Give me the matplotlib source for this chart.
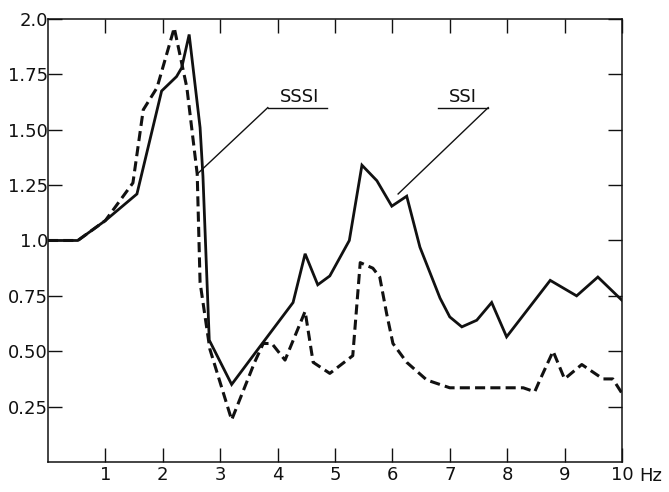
import matplotlib
matplotlib.use("Agg")
import matplotlib.pyplot as plt
from matplotlib.transforms import blended_transform_factory

INK = "#111111"

# SSI (solid) - amplification vs frequency
ssi_f = [0.0, 0.52, 1.0, 1.55, 1.98, 2.24, 2.33, 2.46, 2.65, 2.70, 2.81,
         3.20, 3.69, 4.27, 4.48, 4.70, 4.91, 5.25, 5.47, 5.73, 5.99, 6.25,
         6.48, 6.83, 7.00, 7.21, 7.47, 7.73, 7.99, 8.75, 9.21, 9.58, 10.0]
ssi_a = [1.0, 1.0, 1.09, 1.21, 1.675, 1.74, 1.78, 1.93, 1.51, 1.29, 0.55,
         0.35, 0.52, 0.72, 0.94, 0.80, 0.84, 1.0, 1.34, 1.27, 1.155, 1.20,
         0.97, 0.74, 0.655, 0.61, 0.64, 0.72, 0.565, 0.82, 0.75, 0.835, 0.73]

# SSSI (dashed)
sssi_f = [0.0, 0.52, 1.0, 1.48, 1.66, 1.90, 2.20, 2.42, 2.60, 2.65, 2.82,
          3.20, 3.60, 3.75, 3.90, 4.13, 4.48, 4.62, 4.91, 5.31, 5.44, 5.66,
          5.78, 5.90, 6.01, 6.25, 6.60, 7.00, 7.50, 8.28, 8.48, 8.57, 8.80,
          9.00, 9.30, 9.67, 9.84, 10.0]
sssi_a = [1.0, 1.0, 1.09, 1.26, 1.59, 1.69, 1.96, 1.69, 1.30, 0.81, 0.51,
          0.19, 0.45, 0.535, 0.535, 0.46, 0.68, 0.45, 0.40, 0.48, 0.90, 0.875,
          0.835, 0.67, 0.535, 0.45, 0.37, 0.335, 0.335, 0.335, 0.317, 0.37, 0.50,
          0.375, 0.44, 0.375, 0.375, 0.31]

x_ticks = [1, 2, 3, 4, 5, 6, 7, 8, 9, 10]
x_labels = ["1", "2", "3", "4", "5", "6", "7", "8", "9", "10"]
y_ticks = [0.25, 0.5, 0.75, 1.0, 1.25, 1.5, 1.75, 2.0]
y_labels = ["0.25", "0.50", "0.75", "1.0", "1.25", "1.50", "1.75", "2.0"]

fig = plt.figure(figsize=(6.69, 4.92), dpi=100)
fig.patch.set_facecolor("white")
ax = fig.add_axes([0.0717, 0.061, 0.858, 0.9004])
ax.set_xlim(0, 10)
ax.set_ylim(0, 2.0)

ax.plot(ssi_f, ssi_a, color=INK, lw=2.0, solid_joinstyle="miter")
ax.plot(sssi_f, sssi_a, color=INK, lw=2.2, dashes=(3.3, 1.7))

for s in ax.spines.values():
    s.set_linewidth(1.1)
    s.set_color(INK)

ax.set_xticks(x_ticks)
ax.set_xticklabels(x_labels)
ax.set_yticks(y_ticks)
ax.set_yticklabels(y_labels)
ax.tick_params(axis="both", direction="in", length=10, width=1.0,
               colors=INK, labelsize=13)
ax.tick_params(axis="y", pad=0, right=True)
ax.tick_params(axis="x", pad=3, top=True)

tr = blended_transform_factory(ax.transData, ax.transAxes)
ax.text(10.3, -0.012, "Hz", transform=tr, ha="left", va="top",
        fontsize=13, color=INK)

# leader labels
ax.text(4.38, 1.625, "SSSI", ha="center", va="baseline", fontsize=13, color=INK)
ax.plot([3.83, 4.86], [1.60, 1.60], color=INK, lw=1.0)
ax.plot([3.83, 2.60], [1.60, 1.30], color=INK, lw=1.0)

ax.text(7.23, 1.625, "SSI", ha="center", va="baseline", fontsize=13, color=INK)
ax.plot([6.79, 7.67], [1.60, 1.60], color=INK, lw=1.0)
ax.plot([7.67, 6.10], [1.60, 1.21], color=INK, lw=1.0)

fig.savefig("out.png", dpi=100, facecolor="white")
